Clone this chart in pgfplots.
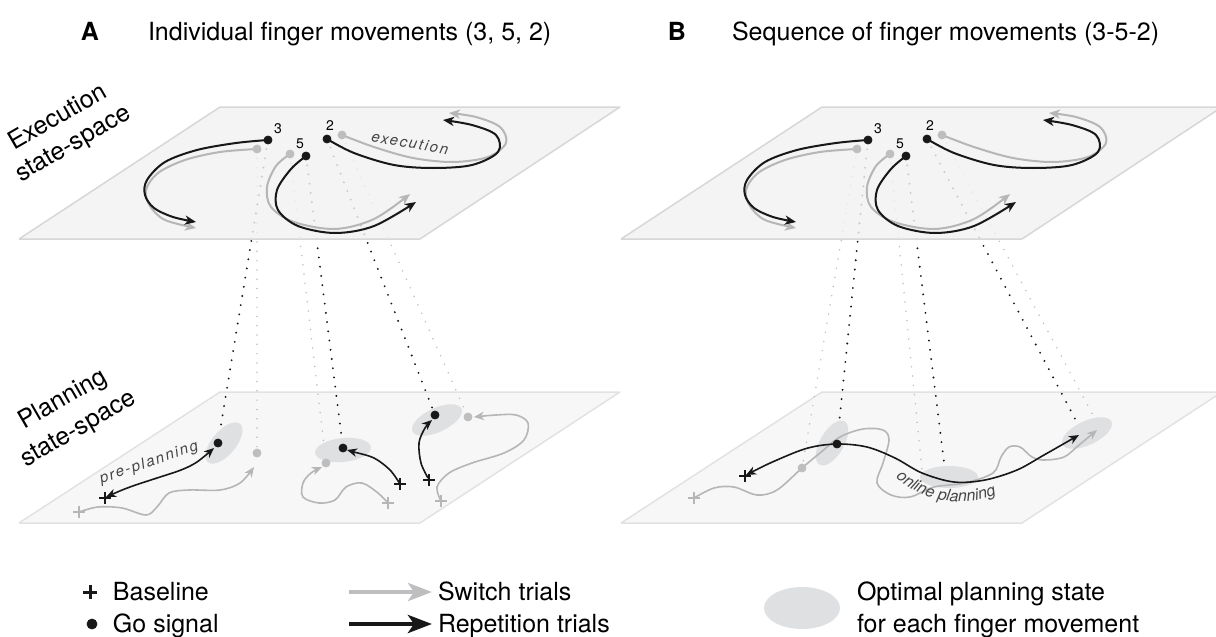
\documentclass[border=0pt]{standalone}
\usepackage{pgfplots}
\pgfplotsset{compat=1.18}
\usepackage{pgfplotstable}
\usepackage{fontspec}
\setmainfont{TeX Gyre Heros}
\usetikzlibrary{arrows.meta,decorations.text,shapes.geometric}

\definecolor{planeE}{RGB}{240,241,240}
\definecolor{planeP}{RGB}{247,247,247}
\definecolor{edgeE}{RGB}{214,215,214}
\definecolor{edgeP}{RGB}{226,226,226}
\definecolor{gcurve}{RGB}{182,182,184}
\definecolor{gdot}{RGB}{190,190,192}
\definecolor{blk}{RGB}{24,24,24}
\definecolor{ell}{RGB}{223,224,226}
\definecolor{txtg}{RGB}{70,70,70}

% execution-space trajectories (panel A coordinates, pixels)
\pgfplotstableread{
x y
268 140
236 143
197 150
165 162
147 180
145 195
154 208
173 217
196 222
}\bThree
\pgfplotstableread{
x y
257 149
220 152
185 160
158 173
146 190
150 206
165 220
196 228
}\gThree
\pgfplotstableread{
x y
306 156
291 169
277 190
278 210
298 226
335 233
374 226
416 202
}\bFive
\pgfplotstableread{
x y
290 154
276 166
267 187
271 207
294 222
335 229
374 219
410 194
}\gFive
\pgfplotstableread{
x y
327 139
354 153
394 165
433 168
472 165
498 152
496 135
472 125
443 120
}\bTwo
\pgfplotstableread{
x y
342 135
374 147
413 158
453 162
488 157
506 143
500 127
476 117
449 113
}\gTwo

\pgfplotsset{
  bc/.style={color=blk, line width=1pt, smooth, tension=0.55, no marks,
     -{Stealth[length=5.5pt,width=4.6pt,inset=1.6pt]}},
  gc/.style={color=gcurve, line width=1pt, smooth, tension=0.55, no marks,
     -{Stealth[length=5.5pt,width=4.6pt,inset=1.6pt]}},
  bp/.style={color=blk, line width=0.8pt, smooth, tension=0.55, no marks},
  gp/.style={color=gcurve, line width=0.8pt, smooth, tension=0.55, no marks},
  bdot/.style={color=blk, line width=1.05pt, dash pattern=on 0pt off 4.65pt, line cap=round, no marks},
  gdotl/.style={color=gdot, line width=0.85pt, dash pattern=on 0pt off 4.65pt, line cap=round, no marks},
}
\tikzset{tip/.tip={Stealth[length=5pt,width=4.2pt,inset=1.5pt]},
  every node/.append style={inner sep=0pt, outer sep=0pt}}
\newcommand{\bigf}{\fontsize{12.5}{14}\selectfont}

\begin{document}
\begin{tikzpicture}
\begin{axis}[
  width=608pt, height=318.5pt, scale only axis,
  xmin=0, xmax=1216, ymin=0, ymax=637, y dir=reverse,
  hide axis, clip=true,
]
% ---------- planning planes ----------
\addplot[fill=planeP, draw=edgeP, line width=0.75pt, line join=round] coordinates {(19,523) (420,523) (620,392) (220,392) (19,523)};
\addplot[fill=planeP, draw=edgeP, line width=0.75pt, line join=round] coordinates {(621,523) (1022,523) (1222,392) (822,392) (621,523)};

% ---------- projection lines ----------
\addplot[gdotl] coordinates {(257,149) (257,453)};
\addplot[gdotl] coordinates {(290,154) (326,463)};
\addplot[gdotl] coordinates {(342,135) (468,417)};
\addplot[bdot] coordinates {(268,140) (218,443)};
\addplot[bdot] coordinates {(306,156) (343,448)};
\addplot[bdot] coordinates {(327,139) (435,415)};
\addplot[gdotl] coordinates {(857,149) (802,468)};
\addplot[gdotl] coordinates {(890,154) (922,470)};
\addplot[gdotl] coordinates {(942,135) (1100,428)};
\addplot[bdot] coordinates {(868,140) (837,444)};
\addplot[bdot] coordinates {(906,156) (946,478)};
\addplot[bdot] coordinates {(927,139) (1081,430)};

% ---------- execution planes ----------
\addplot[fill=planeE, fill opacity=0.82, draw=edgeE, line width=0.75pt, line join=round] coordinates {(19,239) (420,239) (620,107) (220,107) (19,239)};
\addplot[fill=planeE, fill opacity=0.82, draw=edgeE, line width=0.75pt, line join=round] coordinates {(621,239) (1022,239) (1222,107) (822,107) (621,239)};

% ---------- execution trajectories ----------
\addplot[gc] table {\gThree};
\addplot[gc] table {\gFive};
\addplot[gc] table {\gTwo};
\addplot[bc] table {\bThree};
\addplot[bc] table {\bFive};
\addplot[bc] table {\bTwo};
\addplot[gc] table[x expr=\thisrow{x}+600] {\gThree};
\addplot[gc] table[x expr=\thisrow{x}+600] {\gFive};
\addplot[gc] table[x expr=\thisrow{x}+600] {\gTwo};
\addplot[bc] table[x expr=\thisrow{x}+600] {\bThree};
\addplot[bc] table[x expr=\thisrow{x}+600] {\bFive};
\addplot[bc] table[x expr=\thisrow{x}+600] {\bTwo};
\addplot[only marks, mark=*, mark size=2pt, color=gdot] coordinates {(257,149) (290,154) (342,135) (857,149) (890,154) (942,135)};
\addplot[only marks, mark=*, mark size=2pt, color=blk] coordinates {(268,140) (306,156) (327,139) (868,140) (906,156) (927,139)};

\node[font=\fontsize{7}{8}\selectfont] at (axis cs:278,129) {3};
\node[font=\fontsize{7}{8}\selectfont] at (axis cs:300,144) {5};
\node[font=\fontsize{7}{8}\selectfont] at (axis cs:330,126) {2};
\node[font=\fontsize{7}{8}\selectfont] at (axis cs:878,129) {3};
\node[font=\fontsize{7}{8}\selectfont] at (axis cs:900,144) {5};
\node[font=\fontsize{7}{8}\selectfont] at (axis cs:930,126) {2};
\node[font=\fontsize{7.5}{9}\selectfont\itshape\addfontfeature{LetterSpace=12}, text=txtg, rotate=-10] at (axis cs:410,143) {execution};

% ---------- optimal planning states ----------
\node[ellipse, fill=ell, minimum width=25pt, minimum height=12pt, rotate=50] at (axis cs:224,443) {};
\node[ellipse, fill=ell, minimum width=28pt, minimum height=12pt, rotate=6] at (axis cs:343,450) {};
\node[ellipse, fill=ell, minimum width=27pt, minimum height=12pt, rotate=25] at (axis cs:437,420) {};
\node[ellipse, fill=ell, minimum width=25pt, minimum height=12pt, rotate=60] at (axis cs:832,443) {};
\node[ellipse, fill=ell, minimum width=29pt, minimum height=11pt] at (axis cs:949,477) {};
\node[ellipse, fill=ell, minimum width=27pt, minimum height=12pt, rotate=25] at (axis cs:1087,433) {};

% ---------- planning trajectories: panel A ----------
\addplot[gp, -{tip}] coordinates {(79,512) (98,507) (122,508) (146,515) (157,507) (169,493) (189,490) (220,490) (240,483) (254,467)};
\addplot[bp, {tip}-{tip}] coordinates {(106,497) (130,487) (157,478) (181,470) (197,462) (214,448)};
\addplot[gp, -{tip}] coordinates {(388,503) (378,493) (362,483) (346,487) (335,500) (319,503) (303,497) (303,483) (311,473) (322,467)};
\addplot[bp, -{tip}] coordinates {(400,484) (390,470) (374,458) (354,452) (347,450)};
\addplot[gp, -{tip}] coordinates {(441,501) (437,487) (449,473) (472,463) (504,453) (524,440) (528,423) (516,415) (496,415) (474,417)};
\addplot[bp, -{tip}] coordinates {(428,478) (421,463) (419,443) (425,428) (432,420)};

% ---------- planning trajectories: panel B ----------
\addplot[gp, -{tip}] coordinates {(694,498) (714,488) (734,487) (757,495) (777,490) (802,468) (820,453) (840,437) (863,429) (883,430) (889,440) (883,463) (877,483) (891,495) (910,497) (934,487) (965,483) (993,473) (1001,457) (1009,447) (1020,447) (1032,457) (1044,460) (1064,457) (1079,445) (1097,430)};
\addplot[bp, {tip}-{tip}] coordinates {(746,475) (777,460) (808,448) (837,444) (867,447) (895,458) (922,473) (954,482) (985,480) (1017,470) (1044,455) (1079,435)};

% ---------- planning markers ----------
\addplot[only marks, mark=+, mark size=3pt, color=gcurve, mark options={line width=1.2pt}] coordinates {(79,512) (388,503) (441,501) (694,498)};
\addplot[only marks, mark=+, mark size=3pt, color=blk, mark options={line width=1.3pt}] coordinates {(105,498) (400,484) (429,480) (745,476)};
\addplot[only marks, mark=*, mark size=2pt, color=gdot] coordinates {(257,453) (326,463) (468,417) (802,468)};
\addplot[only marks, mark=*, mark size=2pt, color=blk] coordinates {(218,443) (343,448) (435,415) (837,444)};

\node[font=\fontsize{7.5}{9}\selectfont\itshape\addfontfeature{LetterSpace=12}, text=txtg, rotate=19] at (axis cs:149,463) {pre-planning};
\path[decoration={text along path, text align=center,
   text={|\fontsize{8}{9}\selectfont\itshape\color{txtg}|online planning}}, decorate]
   (axis cs:878,454) .. controls (axis cs:903,504) and (axis cs:975,518) .. (axis cs:1022,480);

% ---------- side labels ----------
\node[font=\bigf, rotate=30] at (axis cs:57,116) {Execution};
\node[font=\bigf, rotate=30] at (axis cs:74,145) {state-space};
\node[font=\bigf, rotate=30] at (axis cs:63,400) {Planning};
\node[font=\bigf, rotate=30] at (axis cs:79,430) {state-space};

% ---------- titles ----------
\node[font=\bigf\bfseries, anchor=base] at (axis cs:90,40) {A};
\node[font=\bigf, anchor=base west] at (axis cs:148,40) {Individual finger movements (3, 5, 2)};
\node[font=\bigf\bfseries, anchor=base] at (axis cs:677,40) {B};
\node[font=\bigf, anchor=base west] at (axis cs:732,40) {Sequence of finger movements (3-5-2)};

% ---------- legend ----------
\addplot[only marks, mark=+, mark size=3.6pt, color=blk, mark options={line width=1.5pt}] coordinates {(90,592)};
\addplot[only marks, mark=*, mark size=2.5pt, color=blk] coordinates {(92,624)};
\node[font=\bigf, anchor=base west] at (axis cs:113,600) {Baseline};
\node[font=\bigf, anchor=base west] at (axis cs:113,632) {Go signal};
\addplot[color=gdot, line width=2pt, no marks, -{Stealth[length=12pt,width=9pt,inset=3pt]}] coordinates {(349,592) (432,592)};
\addplot[color=blk, line width=2.4pt, no marks, -{Stealth[length=12pt,width=9pt,inset=3pt]}] coordinates {(349,624) (432,624)};
\node[font=\bigf, anchor=base west] at (axis cs:438,600) {Switch trials};
\node[font=\bigf, anchor=base west] at (axis cs:438,632) {Repetition trials};
\node[ellipse, fill=ell, minimum width=38pt, minimum height=21pt] at (axis cs:802,608) {};
\node[font=\bigf, anchor=base west] at (axis cs:857,600) {Optimal planning state};
\node[font=\bigf, anchor=base west] at (axis cs:857,632) {for each finger movement};
\end{axis}
\pgfresetboundingbox
\useasboundingbox (current axis.south west) rectangle (current axis.north east);
\end{tikzpicture}
\end{document}
